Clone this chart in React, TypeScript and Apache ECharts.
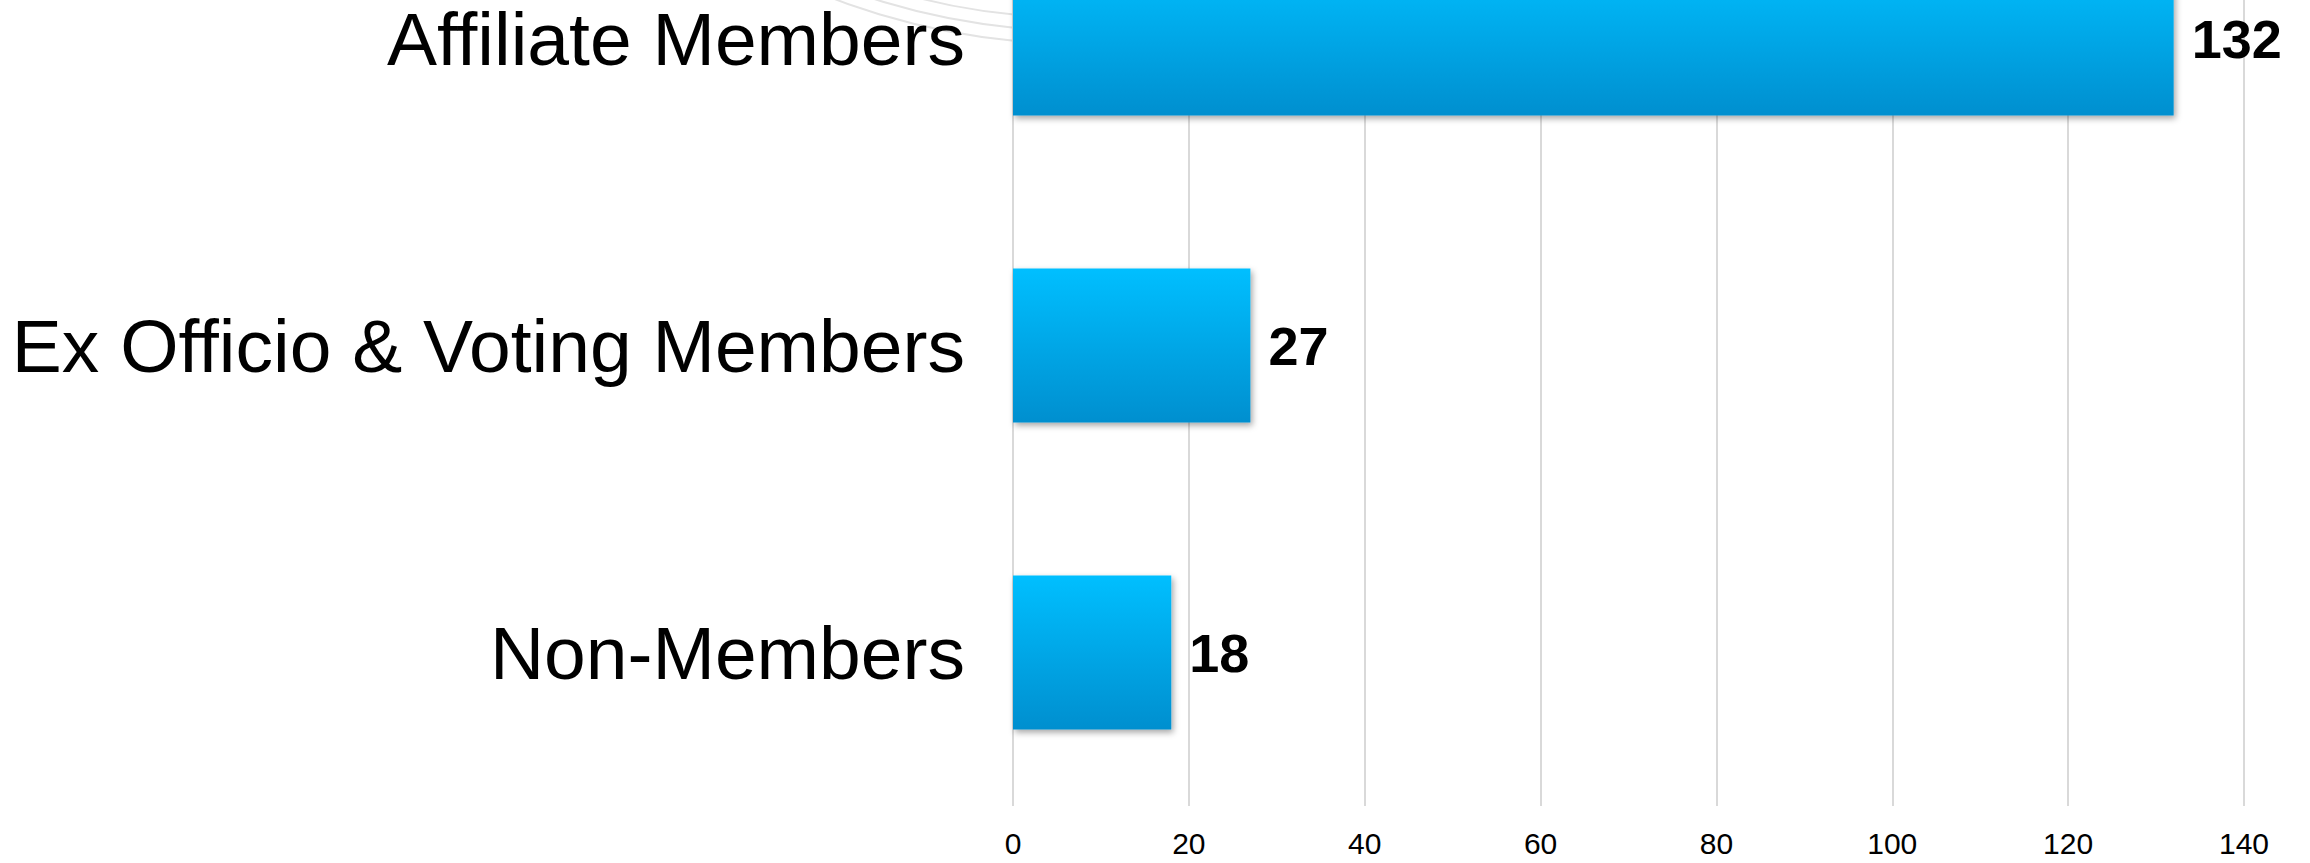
import React, { useEffect, useRef } from "react";
import * as echarts from "echarts";

const categories = ["Affiliate Members", "Ex Officio & Voting Members", "Non-Members"];
const values = [132, 27, 18];
const xTicks = { min: 0, max: 140, interval: 20 };

// The reference is cropped at the top: the chart area starts above the visible page.
const HIDDEN_TOP = 115;

export default function App() {
  const ref = useRef<HTMLDivElement>(null);
  useEffect(() => {
    if (!ref.current) return;
    document.body.style.margin = "0";
    document.body.style.overflow = "hidden";
    const chart = echarts.init(ref.current, undefined, { renderer: "svg" });
    const arcs = [0, 1, 2].map((i) => ({
      type: "circle",
      z: -10,
      shape: { cx: 1080, cy: -650 + HIDDEN_TOP, r: 668 + i * 13 },
      style: { fill: "none", stroke: "#e3e3e3", lineWidth: 2 },
      silent: true,
    }));
    chart.setOption({
      animation: false,
      backgroundColor: "#ffffff",
      graphic: arcs,
      grid: { left: 1013, right: 66, top: 0, bottom: 57, containLabel: false },
      xAxis: {
        type: "value",
        min: xTicks.min,
        max: xTicks.max,
        interval: xTicks.interval,
        axisLine: { show: false },
        axisTick: { show: false },
        splitLine: { show: true, lineStyle: { color: "#d9d9d9", width: 2 } },
        axisLabel: {
          color: "#000",
          fontSize: 30,
          fontFamily: "Liberation Sans, Arial, sans-serif",
          margin: 22,
        },
      },
      yAxis: {
        type: "category",
        inverse: true,
        data: categories,
        axisLine: { show: false },
        axisTick: { show: false },
        splitLine: { show: false },
        axisLabel: {
          color: "#000",
          fontSize: 75,
          fontFamily: "Liberation Sans, Arial, sans-serif",
          margin: 48,
        },
      },
      series: [
        {
          type: "bar",
          data: values,
          barWidth: 154,
          z: 2,
          itemStyle: {
            color: new echarts.graphic.LinearGradient(0, 0, 0, 1, [
              { offset: 0, color: "#00BFFF" },
              { offset: 1, color: "#008FCF" },
            ]),
            shadowColor: "rgba(0,0,0,0.35)",
            shadowBlur: 6,
            shadowOffsetX: 2,
            shadowOffsetY: 3,
          },
          label: {
            show: true,
            position: "right",
            distance: 18,
            color: "#000",
            fontSize: 54,
            fontWeight: "bold",
            fontFamily: "Liberation Sans, Arial, sans-serif",
          },
        },
      ],
    });
    return () => chart.dispose();
  }, []);
  return (
    <div
      ref={ref}
      style={{
        position: "fixed",
        left: 0,
        top: -HIDDEN_TOP,
        width: 2310,
        height: 863 + HIDDEN_TOP,
      }}
    />
  );
}
